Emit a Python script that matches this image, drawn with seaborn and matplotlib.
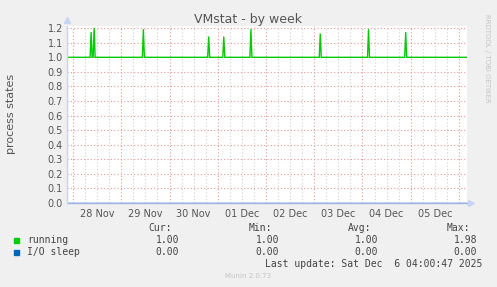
import numpy as np
import pandas as pd
import matplotlib
matplotlib.use("Agg")
import matplotlib.pyplot as plt
import seaborn as sns

# ---- data ----
start_time = "2025-11-27 21:00"
end_time = "2025-12-06 04:00"
baseline_running = 1.0
baseline_iosleep = 0.0
spike_times = ["2025-11-28 09:00", "2025-11-28 10:30", "2025-11-29 11:00",
               "2025-11-30 19:30", "2025-12-01 03:00", "2025-12-01 16:30",
               "2025-12-03 03:00", "2025-12-04 03:00", "2025-12-04 21:30"]
spike_values = [1.17, 1.20, 1.19, 1.14, 1.14, 1.19, 1.16, 1.19, 1.17]
day_labels = ["28 Nov", "29 Nov", "30 Nov", "01 Dec", "02 Dec", "03 Dec", "04 Dec", "05 Dec"]
day_dates = ["2025-11-28", "2025-11-29", "2025-11-30", "2025-12-01",
             "2025-12-02", "2025-12-03", "2025-12-04", "2025-12-05"]
legend_names = ["running", "I/O sleep"]
legend_colors = ["#00cc00", "#0066b3"]
cur_vals = ["1.00", "0.00"]
min_vals = ["1.00", "0.00"]
avg_vals = ["1.00", "0.00"]
max_vals = ["1.98", "0.00"]

# ---- build frame ----
t = pd.date_range(start_time, end_time, freq="30min")
running = pd.Series(baseline_running, index=t)
for st, sv in zip(spike_times, spike_values):
    running[pd.Timestamp(st)] = sv
iosleep = pd.Series(baseline_iosleep, index=t)
df = pd.DataFrame({"time": t, "running": running.values, "iosleep": iosleep.values})

sns.set_style("white")
plt.rcParams["font.family"] = ["DejaVu Sans"]

W, H = 497, 287
fig = plt.figure(figsize=(W / 100, H / 100), dpi=100, facecolor="#f0f0f0")
ax = fig.add_axes([67 / W, (H - 203) / H, 400 / W, 177 / H])
ax.set_facecolor("white")

xmin = pd.Timestamp(start_time)
xmax = pd.Timestamp(end_time)
ax.set_xlim(xmin, xmax)
ax.set_ylim(0, 1.215)

# grid
grid_red = "#e29a9a"
grid_grey = "#cfcfcf"
for h in pd.date_range("2025-11-27 18:00", end_time, freq="6h"):
    if h < xmin:
        continue
    if h.hour == 0:
        ax.axvline(h, color=grid_red, lw=0.8, ls=(0, (1, 2)), zorder=1)
    else:
        ax.axvline(h, color=grid_grey, lw=0.8, ls=(0, (1, 2)), zorder=1)
yt = np.round(np.arange(0, 1.21, 0.1), 1)
for y in yt[1:]:
    ax.axhline(y, color=grid_red, lw=0.8, ls=(0, (1, 2)), zorder=1)

sns.lineplot(data=df, x="time", y="iosleep", color=legend_colors[1], lw=1.0, ax=ax, zorder=3)
sns.lineplot(data=df, x="time", y="running", color=legend_colors[0], lw=1.0, ax=ax, zorder=4)

for s in ax.spines.values():
    s.set_visible(False)
axis_col = "#9fb2e2"
ax.plot([0, 1.0], [0, 0], transform=ax.transAxes, color=axis_col, lw=1.0, clip_on=False, zorder=5)
ax.plot([0, 0], [0, 1.0], transform=ax.transAxes, color="#c8d4f4", lw=1.0, clip_on=False, zorder=5)
ax.plot([1.0 + 4 / 400], [0], marker=">", ms=4, color="#c8d4f4", transform=ax.transAxes, clip_on=False)
ax.plot([0], [1.0 + 6 / 177], marker="^", ms=4, color="#c8d4f4", transform=ax.transAxes, clip_on=False)

ax.set_yticks(yt)
ax.set_yticklabels([f"{v:.1f}" for v in yt])
noon = [pd.Timestamp(d) + pd.Timedelta(hours=12) for d in day_dates]
ax.set_xticks(noon)
ax.set_xticklabels(day_labels)
ax.tick_params(axis="both", length=0, labelsize=7, colors="#555555", pad=3)
ax.tick_params(axis="x", pad=4)
ax.set_xlabel("")
ax.set_ylabel("")
fig.text(11 / W, 1 - 114 / H, "process states", rotation=90, ha="center", va="center",
         fontsize=8, color="#555555")

fig.text(248 / W, 1 - 19 / H, "VMstat - by week", ha="center", va="center", fontsize=9, color="#555555")
fig.text(487 / W, 1 - 58 / H, "RRDTOOL / TOBI OETIKER", rotation=-90, ha="center", va="center",
         fontsize=5, color="#c4c4c4")

mono = "DejaVu Sans Mono"
fs = 7
tc = "#444444"
col_right = [179, 279, 378, 477]
headers = ["Cur:", "Min:", "Avg:", "Max:"]
for xr, hd in zip(col_right, headers):
    fig.text((xr - 7) / W, 1 - 228 / H, hd, ha="right", va="center", family=mono, fontsize=fs, color=tc)
rows_y = [240, 252]
for i, name in enumerate(legend_names):
    y = 1 - rows_y[i] / H
    fig.patches.append(plt.Rectangle((14 / W, y - 3 / H), 5 / W, 5 / H, transform=fig.transFigure,
                                     color=legend_colors[i], figure=fig))
    fig.text(27 / W, y, name, ha="left", va="center", family=mono, fontsize=fs, color=tc)
    for xr, v in zip(col_right, [cur_vals[i], min_vals[i], avg_vals[i], max_vals[i]]):
        fig.text(xr / W, y, v, ha="right", va="center", family=mono, fontsize=fs, color=tc)
fig.text(482 / W, 1 - 264 / H, "Last update: Sat Dec  6 04:00:47 2025", ha="right", va="center",
         family=mono, fontsize=fs, color=tc)
fig.text(248 / W, 1 - 276 / H, "Munin 2.0.73", ha="center", va="center", fontsize=5, color="#c4c4c4")

fig.savefig("out.png", dpi=100, facecolor=fig.get_facecolor())
